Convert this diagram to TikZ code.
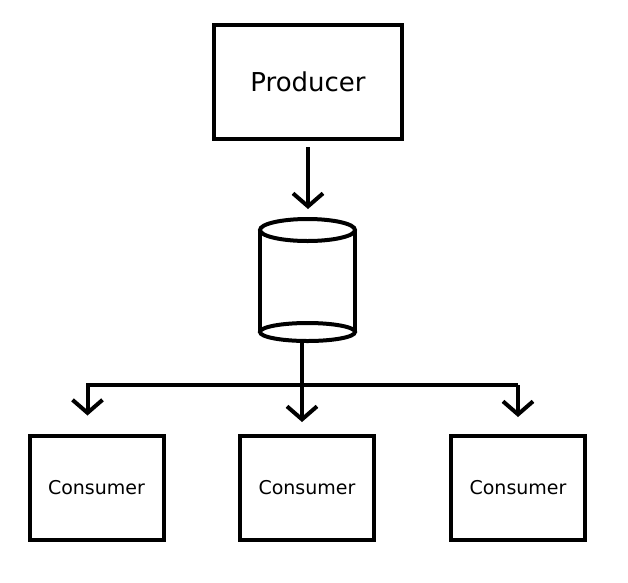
\documentclass[tikz,border=0pt]{standalone}
\usepackage{fontspec}
\setmainfont{DejaVu Sans}
\usetikzlibrary{arrows.meta}
\begin{document}
\begin{tikzpicture}[x=1pt, y=-1pt, line width=4pt,
        box/.style = {shape=rectangle, draw, align=center},
        consumer/.style = {box, minimum width=134pt, minimum height=104pt,
            font=\fontsize{19}{23}\selectfont},
        store/.style = {shape=rectangle, outer sep=0pt, inner sep=0pt,
            minimum width=95pt, minimum height=122pt},
        arr/.style = {-{Straight Barb[length=13pt,width=30pt]}}]
    \useasboundingbox (0,0) rectangle (628,582);
    \node[box, minimum width=188pt, minimum height=114pt,
        font=\fontsize{26}{31}\selectfont] (prod) at (308,82) {Producer};
    % the queue, drawn as a cylinder
    \node[store] (queue) at (307.5,280) {};
    \draw ([yshift=-11pt]queue.north west) -- ([yshift=9pt]queue.south west)
          ([yshift=-11pt]queue.north east) -- ([yshift=9pt]queue.south east);
    \draw ([yshift=-11pt]queue.north) ellipse [x radius=47.5pt, y radius=11pt];
    \draw ([yshift=9pt]queue.south) ellipse [x radius=47.5pt, y radius=9pt];
    \node[consumer] (cons1) at (96.5,487.5) {Consumer};
    \node[consumer] (cons2) at (307,488) {Consumer};
    \node[consumer] (cons3) at (518,488) {Consumer};
    \coordinate (bus) at (302,385);
    \coordinate (drop1) at ([xshift=-9pt]cons1.north);
    % producer to queue
    \draw[arr, shorten <=6pt, shorten >=10pt] (prod.south) -- (prod.south |- queue.north);
    % queue to consumers
    \draw[arr, shorten >=12pt] (bus |- queue.south) -- (bus |- cons2.north);
    \draw[arr, shorten >=18pt] (bus -| cons3.north) -- (bus -| drop1) -- (drop1);
    \draw[arr, shorten >=17pt] (bus -| cons3.north) -- (cons3.north);
\end{tikzpicture}
\end{document}
